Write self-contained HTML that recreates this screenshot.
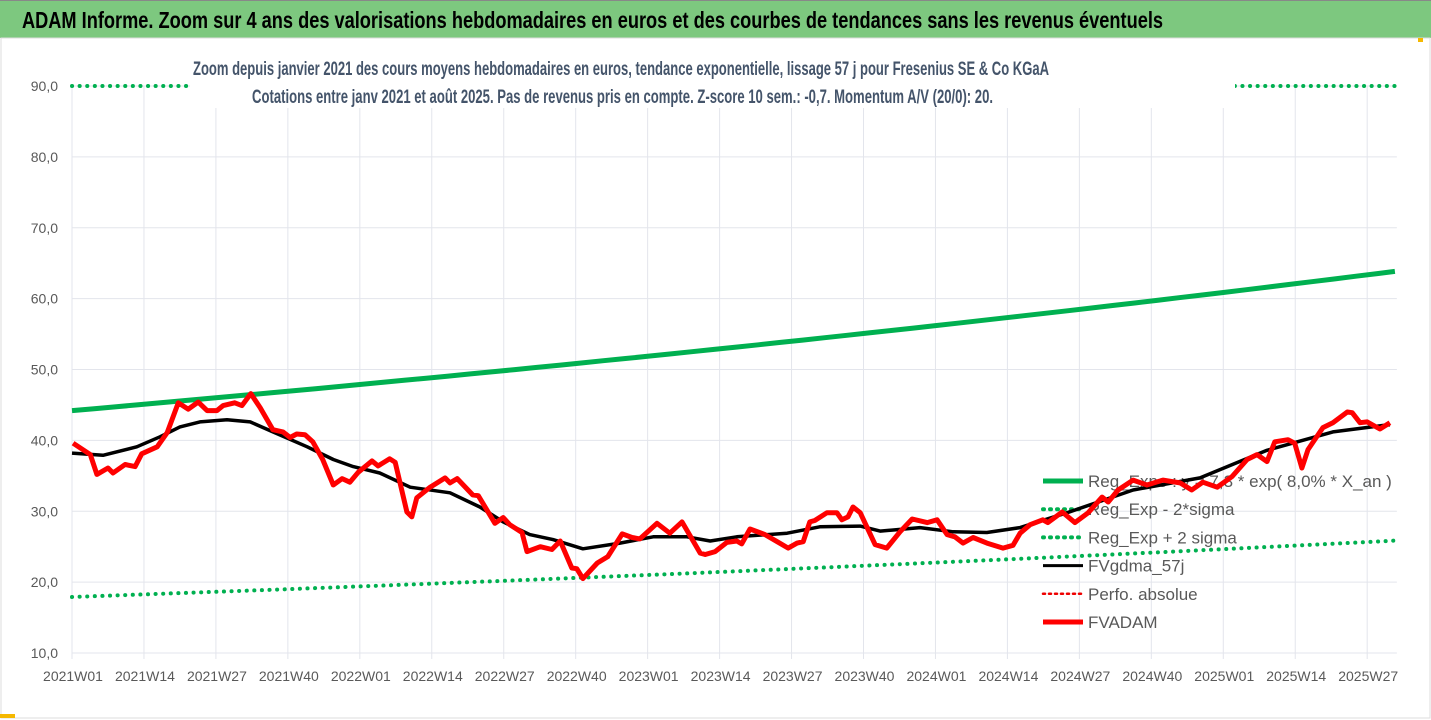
<!DOCTYPE html>
<html><head><meta charset="utf-8"><style>
body{margin:0;background:#fff;}
svg{display:block;font-family:"Liberation Sans Narrow","Liberation Sans",sans-serif;}
</style></head><body>
<svg id="chart" width="1431" height="720" viewBox="0 0 1431 720">
<rect x="0" y="0" width="1431" height="720" fill="#fff"/>
<rect x="0" y="0" width="1431" height="38" fill="#7DC87F"/>
<line x1="0" y1="0.5" x2="1431" y2="0.5" stroke="#888"/>
<text x="22" y="28" font-size="23" font-weight="bold" fill="#000" textLength="1141" lengthAdjust="spacingAndGlyphs">ADAM Informe. Zoom sur 4 ans des valorisations hebdomadaires en euros et des courbes de tendances sans les revenus éventuels</text>
<rect x="1" y="38" width="1429" height="680" fill="none" stroke="#ddd"/>
<rect x="0" y="714" width="15" height="4" fill="#F5B800"/>
<rect x="1418" y="38" width="5" height="4" fill="#F5B800"/>
<g id="grid"></g>
<g id="yaxis"></g>
<g id="xaxis"></g>
<g id="legend"></g>
<g id="series"></g>
<rect x="190" y="52" width="1045" height="56" fill="#fff"/>
<text x="193" y="75" font-size="19" font-weight="bold" fill="#44546A" textLength="856" lengthAdjust="spacingAndGlyphs">Zoom depuis janvier 2021 des cours moyens hebdomadaires en euros, tendance exponentielle, lissage 57 j pour Fresenius SE &amp; Co KGaA</text>
<text x="252" y="103" font-size="19" font-weight="bold" fill="#44546A" textLength="741" lengthAdjust="spacingAndGlyphs">Cotations entre janv 2021 et août 2025. Pas de revenus pris en compte. Z-score 10 sem.: -0,7. Momentum A/V (20/0): 20.</text>
</svg>
<script>
const yTicks=[10,20,30,40,50,60,70,80,90];
const yTickLabels=["10,0","20,0","30,0","40,0","50,0","60,0","70,0","80,0","90,0"];
const xTickWeeks=[0,13,26,39,52,65,78,91,104,117,130,143,156,169,182,195,208,221,234];
const xTickLabels=["2021W01","2021W14","2021W27","2021W40","2022W01","2022W14","2022W27","2022W40","2023W01","2023W14","2023W27","2023W40","2024W01","2024W14","2024W27","2024W40","2025W01","2025W14","2025W27"];
const redWeeks=[0.2,3.3,4.5,6.5,7.4,9.6,11.4,12.6,15.4,17.2,19.2,21,22.8,24.4,26.2,27.3,29.4,30.7,32.3,34,36.3,38.1,39.4,40.6,42.1,43.5,45.3,47.2,48.8,50.2,51.7,54.2,55.3,57.4,58.4,60.5,61.4,62.3,64.7,67.4,68.3,69.6,72.4,73.4,76.4,77.9,79.1,81.3,82.2,84.6,86.7,88.2,90.3,91.2,92.3,94.9,96.8,99.4,101.2,102.6,105.7,108,110.2,113.5,114.4,116.2,118.3,120.1,121,122.5,125.2,127.4,129.4,131,132.1,133.3,134.2,136.4,138.2,139.1,140.2,141.1,142.4,145.1,147.2,149.6,151.8,154.5,156.3,158.1,159.5,161,162.8,165.3,168.2,170,171.3,173.1,175.4,176.3,178.9,181.2,183.6,186.1,187.2,189,191.7,194.2,197.1,200.2,202.3,204.3,206.9,209.6,212.3,214.1,215.9,217.3,219.7,220.9,222.2,223.3,226,227.8,230.4,231.3,232.7,234,236.3,238.1];
const redValues=[39.6,38.0,35.2,36.1,35.4,36.6,36.3,38.1,39.1,41.1,45.3,44.4,45.4,44.2,44.2,44.9,45.3,44.9,46.6,44.6,41.5,41.2,40.4,40.9,40.8,39.8,37.3,33.7,34.6,34.1,35.5,37.1,36.4,37.4,36.9,29.9,29.2,31.9,33.4,34.7,34.0,34.6,32.3,32.2,28.3,29.1,28.1,27.0,24.3,25.0,24.6,25.8,22.0,21.9,20.5,22.7,23.6,26.8,26.3,26.1,28.3,26.9,28.5,24.1,23.9,24.3,25.6,25.8,25.4,27.5,26.7,25.7,24.8,25.5,25.7,28.5,28.7,29.8,29.8,28.8,29.2,30.6,29.8,25.3,24.8,27.1,28.9,28.4,28.8,26.7,26.4,25.5,26.3,25.5,24.8,25.2,26.9,28.1,28.8,28.4,29.9,28.4,29.8,32.0,31.3,33.0,34.4,33.7,34.4,34.0,33.0,34.1,33.4,34.9,37.3,38.0,37.0,39.8,40.1,39.6,36.1,38.7,41.8,42.5,44.0,43.9,42.5,42.6,41.6,42.5];
const blackWeeks=[0,5.6,11.7,15.9,19.5,23.1,28,32.2,36.3,42.5,47.2,50.8,55.6,61.1,68.3,73.7,77.9,82.7,86.9,92.3,99,105,111.1,115.3,120.1,129.2,135.1,142.4,146,153.2,159.2,165.3,171.3,179.8,191.7,203.8,215.9,227.8,236.8,238.1];
const blackValues=[38.2,37.9,39.1,40.5,41.9,42.6,42.9,42.6,41.2,39.1,37.3,36.3,35.4,33.4,32.6,30.6,28.5,26.7,26.0,24.7,25.5,26.4,26.4,25.8,26.4,26.9,27.8,27.9,27.2,27.7,27.1,27.0,27.7,29.8,33.0,34.7,38.6,41.2,42.1,42.2];
const regStart=[44.2];
const regLowStart=[17.9];
const regRate=[0.08];
const regUpperClipped=[90];
const lastWeek=[239];

const NS="http://www.w3.org/2000/svg";
const X0=72,PXW=5.535,YT=86,YB=653,VMIN=10,VMAX=90;
function xs(w){return X0+w*PXW;}
function ys(v){return YB-(v-VMIN)/(VMAX-VMIN)*(YB-YT);}
function mk(tag,attrs,parent){const e=document.createElementNS(NS,tag);for(const k in attrs)e.setAttribute(k,attrs[k]);parent.appendChild(e);return e;}
const grid=document.getElementById('grid'),ya=document.getElementById('yaxis'),xa=document.getElementById('xaxis'),ser=document.getElementById('series'),leg=document.getElementById('legend');
const xEnd=xs(lastWeek[0])+2;
yTicks.forEach((t,i)=>{
  const g=mk('line',{x1:X0,x2:xEnd,y1:ys(t),y2:ys(t),stroke:'#E3E5EC','stroke-width':1},grid);
  
  
  const tx=mk('text',{x:58,y:ys(t)+5,'text-anchor':'end','font-size':14,fill:'#595959'},ya);
  tx.textContent=yTickLabels[i];
  
  
});
xTickWeeks.forEach((w,i)=>{
  const g=mk('line',{x1:xs(w),x2:xs(w),y1:YT,y2:YB+6,stroke:'#E3E5EC','stroke-width':1},grid);
  
  
  const tx=mk('text',{x:xs(w)+1,y:681,'text-anchor':'middle','font-size':14,fill:'#595959'},xa);
  tx.textContent=xTickLabels[i];
  
  
});
function pathFrom(ws,vs){return ws.map((w,i)=>(i?'L':'M')+xs(w).toFixed(1)+','+ys(vs[i]).toFixed(1)).join(' ');}
function regPts(start){const ws=[],vs=[];for(let w=0;w<=lastWeek[0];w+=4){ws.push(w);vs.push(start*Math.exp(regRate[0]*w/52));}ws.push(lastWeek[0]);vs.push(start*Math.exp(regRate[0]*lastWeek[0]/52));return [ws,vs];}
const legItems=[["Reg_Expo : y = 7,3 * exp( 8,0% *  X_an )",'#00B050',5,''],["Reg_Exp - 2*sigma",'#00B050',4,'1 6'],["Reg_Exp + 2 sigma",'#00B050',4,'1 6'],["FVgdma_57j",'#000',3,''],["Perfo. absolue",'#E00',2.5,'2 4'],["FVADAM",'#FF0000',5,'']];
legItems.forEach((it,i)=>{
  const y=481+i*28.2;
  const l=mk('line',{x1:1043,x2:1083,y1:y,y2:y,stroke:it[1],'stroke-width':it[2],'stroke-linecap':it[3]?'round':'butt'},leg);
  if(it[3])l.setAttribute('stroke-dasharray',it[3]);
  
  
  const t=mk('text',{x:1088,y:y+6,'font-size':17,fill:'#595959'},leg);
  t.textContent=it[0];
  
  
});
const [uw,uv]=regPts(regStart[0]);
const up=mk('path',{d:pathFrom(uw,uv),fill:'none',stroke:'#00B050','stroke-width':5},ser);


const [lw,lv]=regPts(regLowStart[0]);
const lo=mk('path',{d:pathFrom(lw,lv),fill:'none',stroke:'#00B050','stroke-width':4,'stroke-dasharray':'0.1 7.5','stroke-linecap':'round'},ser);


const hi=mk('path',{d:pathFrom([0,lastWeek[0]],[regUpperClipped[0],regUpperClipped[0]]),fill:'none',stroke:'#00B050','stroke-width':4,'stroke-dasharray':'0.1 7.5','stroke-linecap':'round'},ser);


const bl=mk('path',{d:pathFrom(blackWeeks,blackValues),fill:'none',stroke:'#000','stroke-width':3.5,'stroke-linejoin':'round'},ser);


const rd=mk('path',{d:pathFrom(redWeeks,redValues),fill:'none',stroke:'#FF0000','stroke-width':5,'stroke-linejoin':'round'},ser);


</script>
</body></html>
